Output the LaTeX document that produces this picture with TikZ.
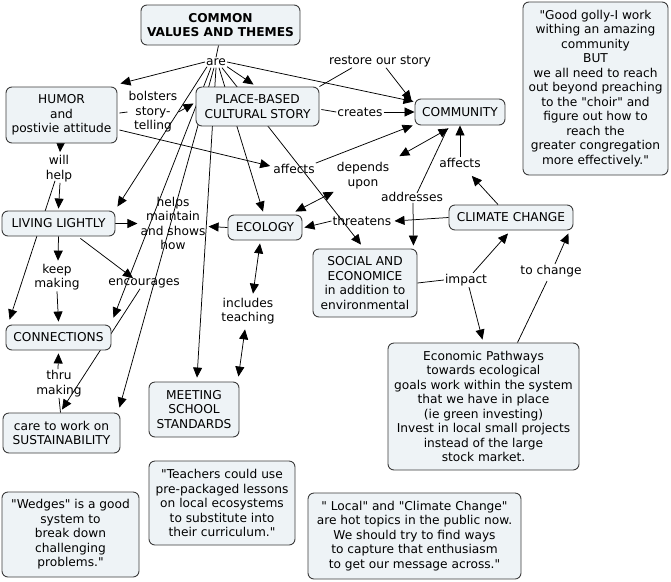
\documentclass[tikz,border=0pt]{standalone}
\usepackage{fontspec}
\setmainfont{DejaVu Sans}[Ligatures=TeXOff]
\usetikzlibrary{arrows.meta,calc}
\definecolor{boxfill}{RGB}{238,243,246}
\definecolor{boxline}{RGB}{60,60,60}
\pgfdeclarelayer{bg}
\pgfsetlayers{bg,main}
\tikzset{
  cbox/.style={draw=boxline, fill=boxfill, rounded corners=6pt, align=center, inner sep=0pt, line width=0.9pt},
  lbl/.style={align=center, inner sep=1pt},
  conn/.style={line width=0.75pt, black},
  arr/.style={conn, -{Triangle[length=10pt,width=9pt]}},
  dbl/.style={conn, {Triangle[length=10pt,width=9pt]}-{Triangle[length=10pt,width=9pt]}}
}
\begin{document}
\begin{tikzpicture}[x=1pt,y=-1pt,font=\fontsize{12.2}{14.5}\selectfont]
\useasboundingbox (0,0) rectangle (671,581);
% concepts
\node[cbox, minimum width=159pt, minimum height=40pt, font=\fontsize{12.2}{14.5}\selectfont\bfseries] (common) at (220.5,25) {COMMON\\VALUES AND THEMES};
\node[cbox, minimum width=111pt, minimum height=56pt] (humor) at (61.5,115) {HUMOR\\and\\postivie attitude};
\node[cbox, minimum width=123pt, minimum height=39pt] (place) at (257.5,106.5) {PLACE-BASED\\CULTURAL STORY};
\node[cbox, minimum width=90pt, minimum height=26pt] (community) at (460,112) {COMMUNITY};
\node[cbox, minimum width=145pt, minimum height=173pt] (quote1) at (595.5,88.5) {"Good golly-I work\\withing an amazing\\community\\BUT\\we all need to reach\\out beyond preaching\\to the "choir" and\\figure out how to\\reach the\\greater congregation\\more effectively."};
\node[cbox, minimum width=113pt, minimum height=25pt] (living) at (58.5,223.5) {LIVING LIGHTLY};
\node[cbox, minimum width=74pt, minimum height=25pt] (ecology) at (265,227.5) {ECOLOGY};
\node[cbox, minimum width=124pt, minimum height=25pt] (climate) at (511,217.5) {CLIMATE CHANGE};
\node[cbox, minimum width=104pt, minimum height=68pt] (social) at (365,283) {SOCIAL AND\\ECONOMICE\\in addition to\\environmental};
\node[cbox, minimum width=105pt, minimum height=25pt] (connections) at (58.5,337.5) {CONNECTIONS};
\node[cbox, minimum width=117pt, minimum height=40pt] (sustain) at (61.5,433) {care to work on\\SUSTAINABILITY};
\node[cbox, minimum width=90pt, minimum height=55pt] (meeting) at (194,409.5) {MEETING\\SCHOOL\\STANDARDS};
\node[cbox, minimum width=191pt, minimum height=127pt] (econ) at (483.5,406.5) {Economic Pathways\\towards ecological\\goals work within the system\\that we have in place\\(ie green investing)\\Invest in local small projects\\instead of the large\\stock market.};
\node[cbox, minimum width=146pt, minimum height=84pt] (teachers) at (222,503) {"Teachers could use\\pre-packaged lessons\\on local ecosystems\\to substitute into\\their curriculum."};
\node[cbox, minimum width=137pt, minimum height=85pt] (wedges) at (70.5,534.5) {"Wedges" is a good\\system to\\break down\\challenging\\problems."};
\node[cbox, minimum width=213pt, minimum height=86pt] (local) at (414.5,536) {" Local" and "Climate Change"\\are hot topics in the public now.\\We should try to find ways\\to capture that enthusiasm\\to get our message across."};
% linking phrases
\node[lbl] (are) at (216,62) {are};
\node[lbl] (restore) at (380,61) {restore our story};
\node[lbl] (bolsters) at (153,112) {bolsters\\story-\\telling};
\node[lbl] (creates) at (360,112) {creates};
\node[lbl] (affects1) at (294,169) {affects};
\node[lbl] (depends) at (363,175.5) {depends\\upon};
\node[lbl] (affects2) at (460,163) {affects};
\node[lbl] (addresses) at (412,197) {addresses};
\node[lbl] (threatens) at (362,221) {threatens};
\node[lbl] (impact) at (466,280) {impact};
\node[lbl] (tochange) at (551,271) {to change};
\node[lbl] (will) at (59,168.5) {will\\help};
\node[lbl] (helps) at (173,223.5) {helps\\maintain\\and shows\\how};
\node[lbl] (keep) at (57,277) {keep\\making};
\node[lbl] (encourages) at (144,283) {encourages};
\node[lbl] (thru) at (59,383.5) {thru\\making};
\node[lbl] (includes) at (248,311) {includes\\teaching};
% connectors
\begin{pgfonlayer}{bg}
\draw[conn] ($(common.south)+(-2,0)$) -- (are.north);
\draw[arr] (are.west) -- ($(humor.north east)+(3,-3)$);
\draw[arr] (are.south east) -- ($(place.north)+(-4,-2)$);
\draw[arr] (are.east) -- ($(community.north west)+(-1,3)$);
\draw[conn] (place.north east) -- ($(restore.south)+(-28,0)$);
\draw[arr] ($(restore.south)+(6,0)$) -- ($(community.north west)+(-3,2)$);
\draw[conn] ($(humor.east)+(2,-2)$) -- (bolsters.west);
\draw[arr] (bolsters.east) -- ($(place.west)+(-2,-3)$);
\draw[arr] ($(humor.east)+(2,15)$) -- ($(affects1.west)+(-2,-3)$);
\draw[arr] (affects1.north east) -- ($(community.south west)+(-2,0)$);
\draw[conn] ($(place.east)+(2,3)$) -- (creates.west);
\draw[arr] (creates.east) -- (community.west);
\draw[dbl] ($(depends.north east)+(9,-5)$) -- ($(community.south west)+(34,3)$);
\draw[dbl] ($(depends.south west)+(-2,2)$) -- ($(ecology.north east)+(-7,-3)$);
\draw[arr] ($(climate.north)+(-13,0)$) -- ($(affects2.south east)+(-10,7)$);
\draw[arr] (affects2.north) -- (community.south);
\draw[conn] ($(community.south west)+(33,3)$) -- ($(addresses.north)+(5,2)$);
\draw[arr] ($(addresses.south)+(1,0)$) -- ($(social.north east)+(-4,-3)$);
\draw[arr] (climate.west) -- ($(threatens.east)+(2,0)$);
\draw[arr] (threatens.west) -- ($(ecology.east)+(2,0)$);
\draw[conn] (social.east) -- (impact.west);
\draw[arr] ($(impact.north)+(7,0)$) -- ($(climate.south)+(-3,3)$);
\draw[arr] ($(impact.south)+(3,0)$) -- ($(econ.north)+(-1,-3)$);
\draw[conn] ($(econ.north)+(34,0)$) -- ($(tochange.south)+(-4,3)$);
\draw[arr] ($(tochange.north)+(4,0)$) -- ($(climate.south east)+(-5,3)$);
\draw[arr] ($(humor.south)+(-1,0)$) -- ($(will.north)+(1,-2)$);
\draw[arr] ($(will.south)+(1,0)$) -- ($(living.north)+(0,-2)$);
\draw[arr] ($(will.south)+(-4,-2)$) -- ($(connections.north west)+(4,-5)$);
\draw[arr] (living.south) -- ($(keep.north)+(1,-2)$);
\draw[arr] (keep.south) -- ($(connections.north)+(0,-3)$);
\draw[arr] (living.east) -- ($(helps.west)+(-2,0)$);
\draw[arr] (ecology.west) -- ($(helps.east)+(2,3)$);
\draw[arr] ($(living.south east)+(-35,2)$) -- ($(encourages.north)+(-11,1)$);
\draw[arr] ($(encourages.south)+(-4,0)$) -- ($(sustain.north)+(0.5,-3)$);
\draw[conn] ($(sustain.north)+(-1,0)$) -- (thru.south);
\draw[arr] ($(thru.north)+(-1,0)$) -- ($(connections.south)+(0,3)$);
\draw[arr] ($(are.south)+(-9,0)$) -- ($(living.north east)+(2,-4)$);
\draw[arr] ($(are.south)+(-5,1)$) -- ($(connections.north east)+(2,-7)$);
\draw[arr] ($(are.south)+(-2,1)$) -- ($(sustain.north east)+(-1,-5)$);
\draw[arr] ($(are.south)+(0,1)$) -- ($(meeting.north)+(3,-4)$);
\draw[arr] ($(are.south)+(3,1)$) -- ($(ecology.north)+(-2,-3)$);
\draw[arr] ($(are.south)+(6,1)$) -- ($(social.north)+(-4,-4)$);
\draw[dbl] ($(ecology.south)+(-5,3)$) -- ($(includes.north)+(5,-3)$);
\draw[dbl] ($(includes.south)+(-3,4)$) -- ($(meeting.north east)+(-1,-5)$);
\end{pgfonlayer}
\end{tikzpicture}
\end{document}
